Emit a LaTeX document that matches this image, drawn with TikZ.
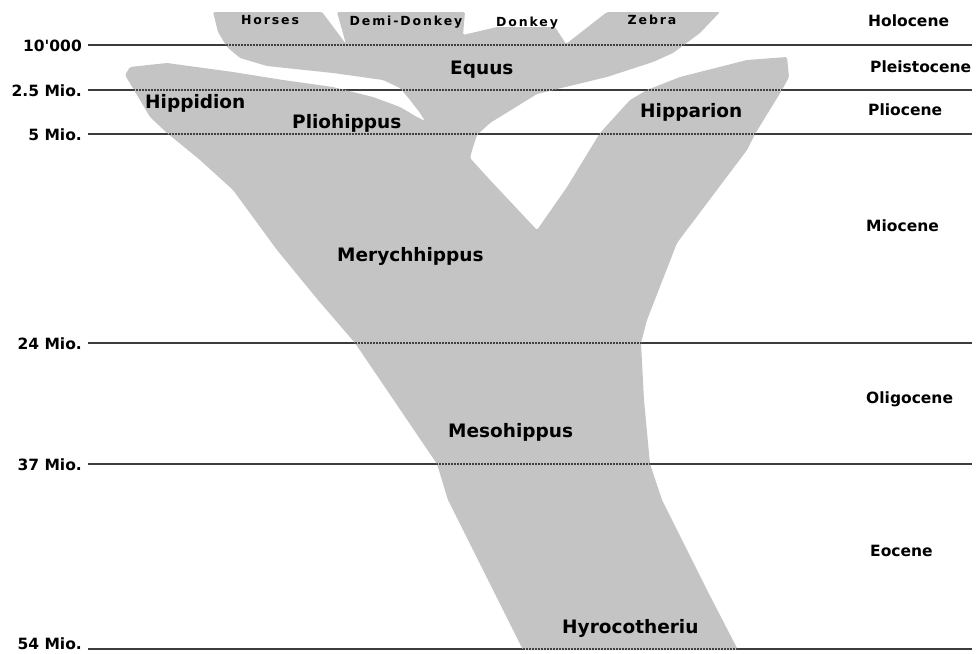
\documentclass[tikz,border=0pt]{standalone}
\usepackage{fontspec}
\setmainfont{DejaVu Sans}
\newfontfamily\spacedfont[LetterSpace=15]{DejaVu Sans}
\newfontfamily\agefont[Ligatures=TeXOff]{DejaVu Sans}
\definecolor{stipple}{RGB}{196,196,196}
\definecolor{rulegray}{RGB}{60,60,60}
\tikzset{
  mainlbl/.style={font=\bfseries\fontsize{18.5}{20}\selectfont, anchor=base west, inner sep=0pt},
  epochlbl/.style={font=\bfseries\fontsize{15.5}{17}\selectfont, anchor=base west, inner sep=0pt},
  agelbl/.style={font=\agefont\bfseries\fontsize{15.5}{17}\selectfont, anchor=base east, inner sep=0pt},
  toplbl/.style={font=\spacedfont\bfseries\fontsize{12.5}{14}\selectfont, anchor=base, inner sep=0pt},
  timeline/.style={line width=1.6pt, draw=rulegray},
  overline/.style={line width=1.6pt, draw=black!75, dash pattern=on 1.5pt off 1.5pt},
  branch/.style={fill=stipple, draw=none, rounded corners=1.5pt}
}
\def\horseshape{(523,650) -- (448,500) -- (437,464) -- (355,343) -- (318,300) -- (277,250)
 -- (233,190) -- (200,160) -- (167,133) -- (150,117) -- (137,95) -- (125,75) -- (130,67)
 -- (167,63) -- (233,72) -- (283,80) -- (333,87) -- (373,97) -- (400,107) -- (417,117)
 -- (425,121) -- (420,113) -- (410,100) -- (400,88) -- (383,80) -- (333,73) -- (267,66)
 -- (240,58) -- (227,47) -- (218,32) -- (213,12) -- (322,12) -- (346,44) -- (337,12)
 -- (465,12) -- (463,35) -- (497,27) -- (555,27) -- (566,44) -- (607,12) -- (720,12)
 -- (700,33) -- (673,53) -- (653,62) -- (607,77) -- (553,90) -- (537,94) -- (490,123)
 -- (477,135) -- (473,147) -- (470,158) -- (490,180) -- (537,230) -- (567,187)
 -- (600,133) -- (630,100) -- (647,90) -- (680,77) -- (747,60) -- (787,57) -- (789,77)
 -- (782,90) -- (755,134) -- (747,150) -- (677,243) -- (647,320) -- (641,343)
 -- (644,400) -- (650,464) -- (662,500) -- (707,590) -- (738,650) -- cycle}
\begin{document}
\begin{tikzpicture}[x=1pt,y=-1pt]
\useasboundingbox (0,0) rectangle (979,653);
% time lines
\foreach \n/\yy in {a/45,b/90,c/134,d/343,e/464,f/649}{
  \coordinate (\n s) at (88,\yy);
  \coordinate (\n e) at (972,\yy);
}
\foreach \n in {a,b,c,d,e,f}{\draw[timeline] (\n s) -- (\n e);}
% branching shape
\path[branch] \horseshape;
\begin{scope}
  \clip \horseshape;
  \foreach \n in {a,b,c,d,e,f}{\draw[overline] (\n s) -- (\n e);}
\end{scope}
% age labels
\node[agelbl] (age1) at (82,51) {10'000};
\node[agelbl] (age2) at (82,96) {2.5 Mio.};
\node[agelbl] (age3) at (82,140) {5 Mio.};
\node[agelbl] (age4) at (82,349) {24 Mio.};
\node[agelbl] (age5) at (82,470) {37 Mio.};
\node[agelbl] (age6) at (82,649) {54 Mio.};
% epoch labels
\node[epochlbl] (ep1) at (868,26) {Holocene};
\node[epochlbl] (ep2) at (870,72) {Pleistocene};
\node[epochlbl] (ep3) at (868,115) {Pliocene};
\node[epochlbl] (ep4) at (866,231) {Miocene};
\node[epochlbl] (ep5) at (866,403) {Oligocene};
\node[epochlbl] (ep6) at (870,556) {Eocene};
% top labels
\node[toplbl] (horses) at (270,24) {Horses};
\node[toplbl] (demi) at (406,25) {Demi-Donkey};
\node[toplbl] (donkey) at (527,27) {Donkey};
\node[toplbl] (zebra) at (652,24) {Zebra};
% genus labels
\node[mainlbl] (equus) at (450,74) {Equus};
\node[mainlbl] (hippidion) at (145,108) {Hippidion};
\node[mainlbl] (pliohippus) at (292,128) {Pliohippus};
\node[mainlbl] (hipparion) at (640,117) {Hipparion};
\node[mainlbl] (merych) at (337,261) {Merychhippus};
\node[mainlbl] (meso) at (448,437) {Mesohippus};
\node[mainlbl] (hyraco) at (562,633) {Hyrocotheriu};
\end{tikzpicture}
\end{document}
